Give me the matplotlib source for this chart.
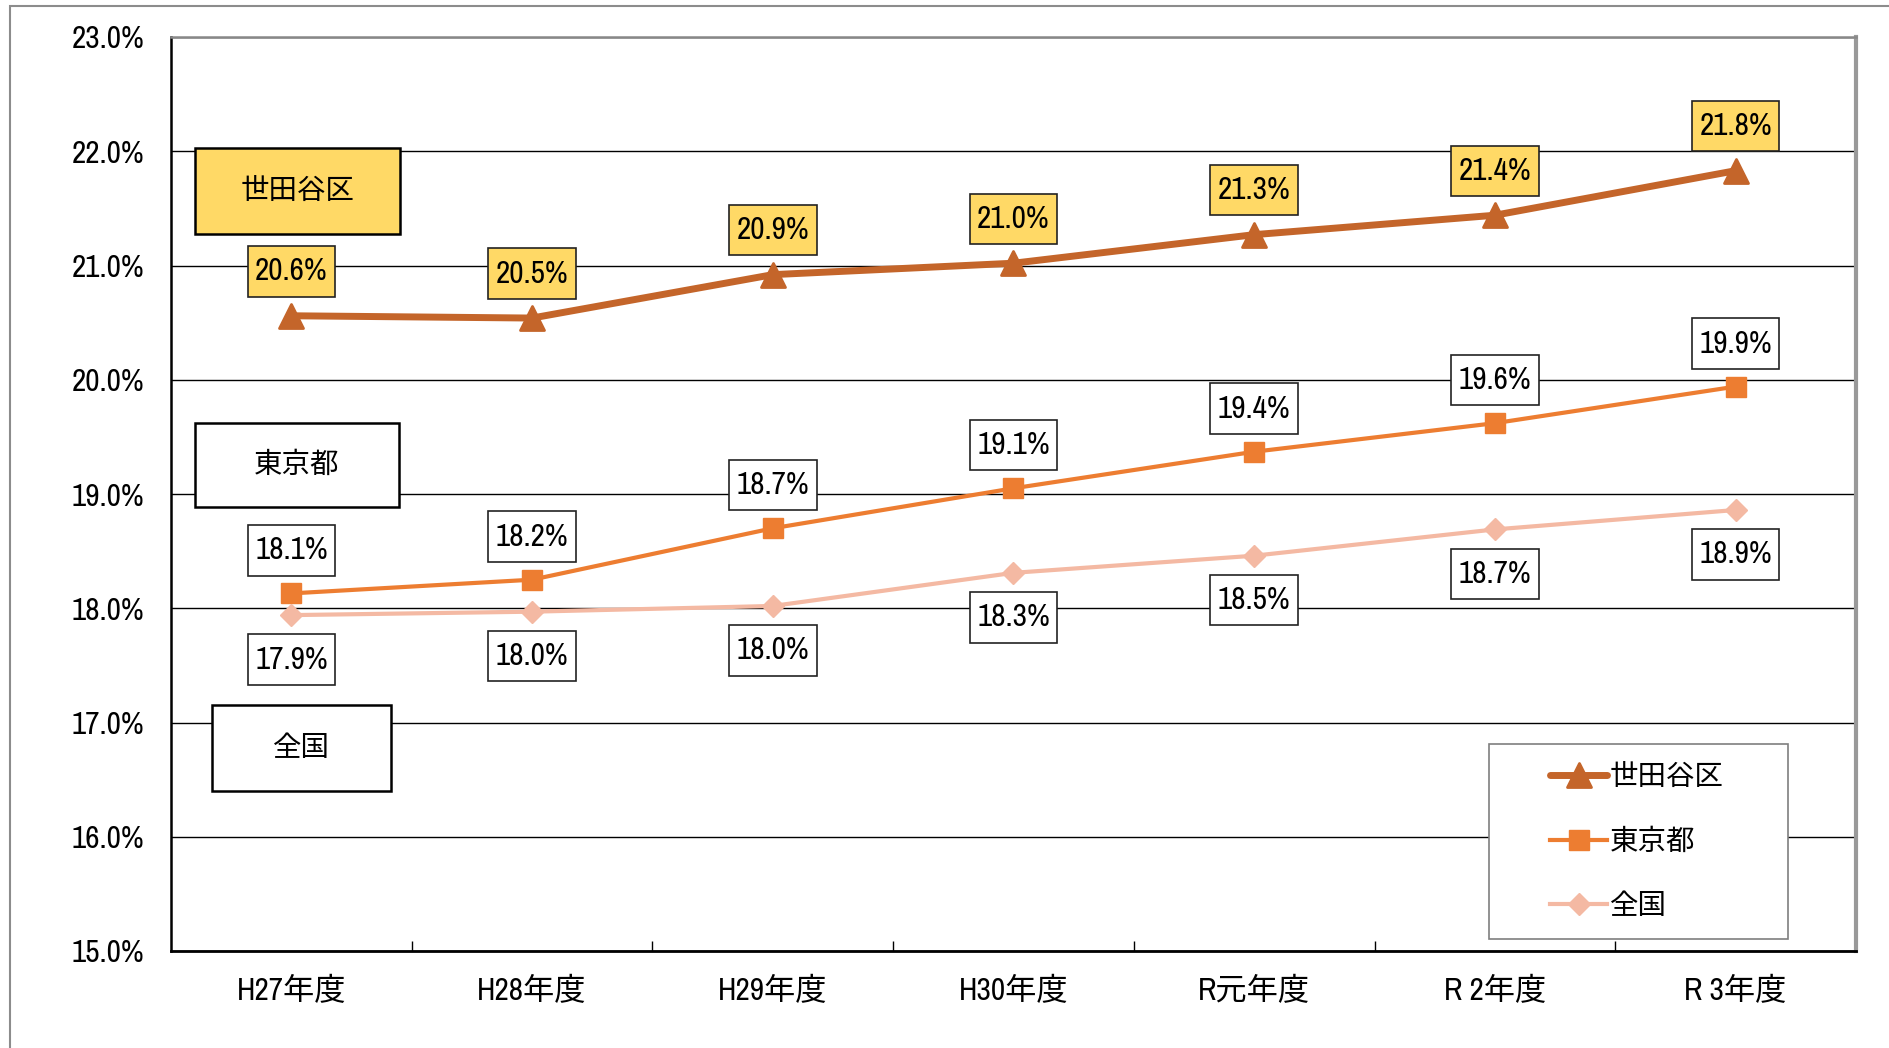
import matplotlib
matplotlib.use("Agg")
import matplotlib.pyplot as plt
from matplotlib import font_manager as fm
from matplotlib.markers import MarkerStyle
from matplotlib.patches import Rectangle
from matplotlib.path import Path
from matplotlib.ticker import FuncFormatter

names = {f.name for f in fm.fontManager.ttflist if f.style == 'normal'}
latin = 'Liberation Sans'
for cand in ['Liberation Sans Narrow', 'Arial Narrow', 'Nimbus Sans Narrow', 'Archivo Narrow',
             'PT Sans Narrow', 'Roboto Condensed', 'IBM Plex Sans Condensed']:
    if cand in names:
        latin = cand
        break
plt.rcParams['font.family'] = [latin, 'Noto Sans CJK JP', 'DejaVu Sans']

# ---- data ----
categories = ["H27年度", "H28年度", "H29年度", "H30年度", "R元年度", "R 2年度", "R 3年度"]
series_names = ["世田谷区", "東京都", "全国"]
setagaya = [20.56, 20.54, 20.92, 21.02, 21.27, 21.44, 21.83]
tokyo = [18.13, 18.25, 18.70, 19.05, 19.37, 19.62, 19.94]
zenkoku = [17.94, 17.97, 18.02, 18.31, 18.46, 18.69, 18.86]
setagaya_labels = ["20.6%", "20.5%", "20.9%", "21.0%", "21.3%", "21.4%", "21.8%"]
tokyo_labels = ["18.1%", "18.2%", "18.7%", "19.1%", "19.4%", "19.6%", "19.9%"]
zenkoku_labels = ["17.9%", "18.0%", "18.0%", "18.3%", "18.5%", "18.7%", "18.9%"]
y_ticks = [15, 16, 17, 18, 19, 20, 21, 22, 23]

c_set = "#C4652A"
c_tok = "#ED7D31"
c_zen = "#F4B9A3"
c_yel = "#FFD966"


def rect_box(padx, pady):
    def f(x0, y0, w, h, mutation_size):
        px, py = padx * mutation_size, pady * mutation_size
        return Path([(x0 - px, y0 - py), (x0 + w + px, y0 - py), (x0 + w + px, y0 + h + py),
                     (x0 - px, y0 + h + py), (x0 - px, y0 - py)], closed=True)
    return f


W, H = 1890, 1048
fig = plt.figure(figsize=(W / 100, H / 100), dpi=100)
ax = fig.add_axes([171 / W, (H - 951) / H, (1856 - 171) / W, (951 - 37) / H])

# outer chart-area frame
fig.patches.append(Rectangle((10 / W, -0.1), 1.2, (H - 6) / H + 0.1, transform=fig.transFigure,
                             fill=False, edgecolor="#8c8c8c", linewidth=1.5))

x = [i + 0.5 for i in range(len(categories))]

ax.plot(x, setagaya, color=c_set, lw=5, solid_capstyle='round',
        marker=MarkerStyle('^', joinstyle='round'), ms=17, mec=c_set, mew=2, zorder=4,
        label=series_names[0])
ax.plot(x, tokyo, color=c_tok, lw=3, marker='s', ms=15, mec=c_tok, zorder=4,
        label=series_names[1])
ax.plot(x, zenkoku, color=c_zen, lw=3, marker='D', ms=11, mec=c_zen, zorder=4,
        label=series_names[2])

fs = 22.5
bstyle = rect_box(0.24, 0.36)
for xi, v, t in zip(x, setagaya, setagaya_labels):
    ax.annotate(t, (xi, v), xytext=(0, 32), textcoords='offset points', ha='center', va='center',
                fontsize=fs, zorder=6,
                bbox=dict(boxstyle=bstyle, fc=c_yel, ec='#222222', lw=1.2))
for xi, v, t in zip(x, tokyo, tokyo_labels):
    ax.annotate(t, (xi, v), xytext=(0, 31), textcoords='offset points', ha='center', va='center',
                fontsize=fs, zorder=6,
                bbox=dict(boxstyle=bstyle, fc='white', ec='#222222', lw=1.2))
for xi, v, t in zip(x, zenkoku, zenkoku_labels):
    ax.annotate(t, (xi, v), xytext=(0, -32), textcoords='offset points', ha='center', va='center',
                fontsize=fs, zorder=6,
                bbox=dict(boxstyle=bstyle, fc='white', ec='#222222', lw=1.2))

# series name boxes
name_boxes = [(0.10, 21.28, 0.951, 22.03, c_yel),
              (0.10, 18.89, 0.947, 19.62, 'white'),
              (0.17, 16.40, 0.914, 17.15, 'white')]
for (x0, y0, x1, y1, fc), nm in zip(name_boxes, series_names):
    ax.add_patch(Rectangle((x0, y0), x1 - x0, y1 - y0, facecolor=fc, edgecolor='black',
                           lw=1.8, zorder=6))
    ax.text((x0 + x1) / 2, (y0 + y1) / 2, nm, ha='center', va='center', fontsize=20.5, zorder=7)

ax.set_xlim(0, 7)
ax.set_ylim(15, 23)
ax.set_yticks(y_ticks)
ax.yaxis.set_major_formatter(FuncFormatter(lambda v, p: f"{v:.1f}%"))
ax.tick_params(axis='y', length=0, pad=19, labelsize=fs)
ax.set_xticks([1, 2, 3, 4, 5, 6])
ax.set_xticklabels([])
ax.set_xticks(x, minor=True)
ax.set_xticklabels(categories, minor=True)
ax.tick_params(axis='x', which='major', direction='in', length=7, width=1, color='black')
ax.tick_params(axis='x', which='minor', length=0, pad=18, labelsize=fs)
ax.yaxis.grid(True, color='black', lw=1)
ax.set_axisbelow(True)
ax.spines['left'].set_color('black')
ax.spines['left'].set_linewidth(1.8)
ax.spines['bottom'].set_color('black')
ax.spines['bottom'].set_linewidth(2)
ax.spines['top'].set_color('#888888')
ax.spines['top'].set_linewidth(1.8)
ax.spines['right'].set_color('#999999')
ax.spines['right'].set_linewidth(3)

# legend
ax.add_patch(Rectangle((0.782, 0.0131), 0.9597 - 0.782, 0.2265 - 0.0131, transform=ax.transAxes,
                       facecolor='white', edgecolor='#7f7f7f', lw=1.2, zorder=6))
leg = ax.legend(loc='center', bbox_to_anchor=(0.870, 0.1198), frameon=False, fontsize=20.5,
                labelspacing=1.34, handlelength=2.0, handletextpad=0.1, borderpad=0)
leg.set_zorder(7)

fig.savefig("out.png", dpi=100)
